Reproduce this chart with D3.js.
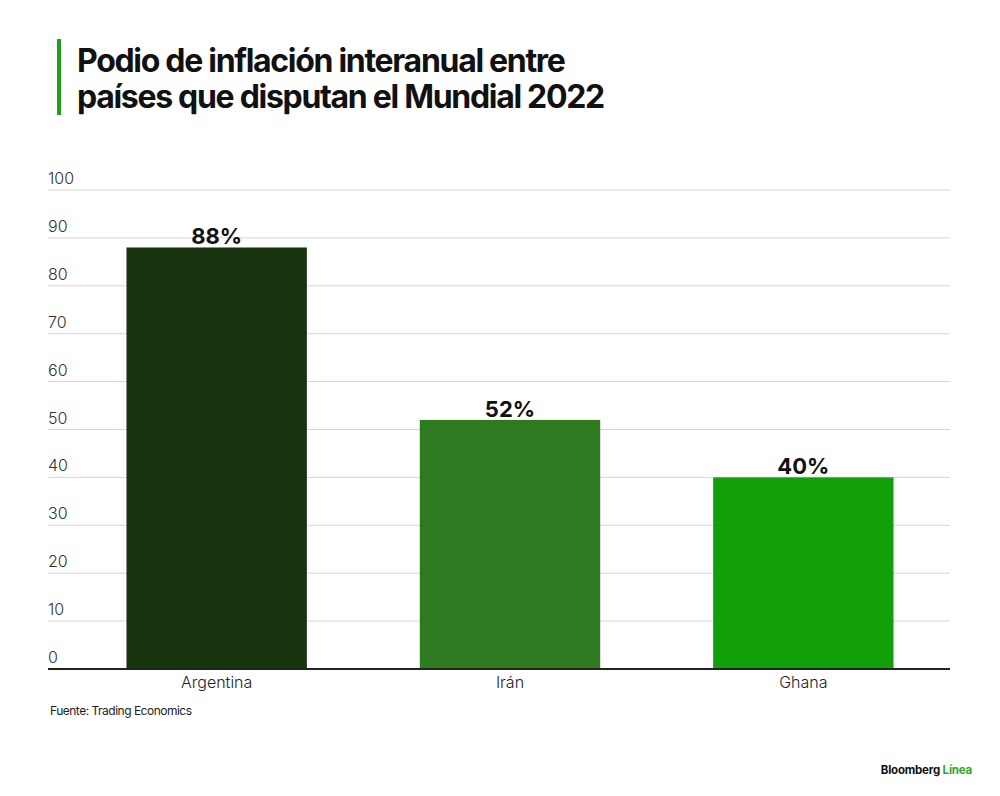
<!DOCTYPE html>
<html>
<head>
<meta charset="utf-8">
<script src="https://cdn.jsdelivr.net/npm/d3@7"></script>
<style>
  body { margin: 0; background: #fff; }
  svg { display: block; }
</style>
</head>
<body>
<div id="chart"></div>
<script>
  const countries = ["Argentina", "Irán", "Ghana"];
  const inflation = [88, 52, 40];
  const barColors = ["#18340f", "#2e7a20", "#12a00a"];
  const yTicks = [0, 10, 20, 30, 40, 50, 60, 70, 80, 90, 100];
  const titleLines = ["Podio de inflación interanual entre", "países que disputan el Mundial 2022"];

  const data = countries.map((c, i) => ({ country: c, value: inflation[i], color: barColors[i] }));

  const width = 1000;
  const height = 796;
  const margin = { top: 190, right: 50, bottom: 127, left: 48 };

  const svg = d3.select("#chart")
    .append("svg")
    .attr("width", width)
    .attr("height", height)
    .style("font-family", "Inter, 'Liberation Sans', sans-serif");

  // title with green accent
  svg.append("rect")
    .attr("x", 57).attr("y", 39)
    .attr("width", 4).attr("height", 76)
    .attr("fill", "#1fa01a");

  svg.append("g")
    .selectAll("text")
    .data(titleLines)
    .join("text")
    .attr("x", 77)
    .attr("y", (d, i) => 72 + i * 36)
    .style("font-size", "32px")
    .style("font-weight", "700")
    .style("letter-spacing", "-1.3px")
    .attr("fill", "#111")
    .text(d => d);

  const x = d3.scaleBand()
    .domain(countries)
    .range([70, width - margin.right])
    .paddingInner(0.385)
    .paddingOuter(0.1925);

  const y = d3.scaleLinear()
    .domain([0, 100])
    .range([height - margin.bottom, margin.top]);

  // gridlines
  svg.append("g")
    .selectAll("line")
    .data(yTicks.filter(d => d > 0))
    .join("line")
    .attr("x1", margin.left)
    .attr("x2", width - margin.right)
    .attr("y1", d => y(d))
    .attr("y2", d => y(d))
    .attr("stroke", "#d6d6d6")
    .attr("stroke-width", 1);

  // y tick labels sit above the gridlines
  svg.append("g")
    .selectAll("text")
    .data(yTicks)
    .join("text")
    .attr("x", margin.left)
    .attr("y", d => y(d) - 6)
    .style("font-size", "16px")
    .style("font-weight", "300")
    .attr("fill", "#333")
    .text(d => d);

  // bars
  svg.append("g")
    .selectAll("rect")
    .data(data)
    .join("rect")
    .attr("x", d => x(d.country))
    .attr("y", d => y(d.value))
    .attr("width", x.bandwidth())
    .attr("height", d => y(0) - y(d.value))
    .attr("fill", d => d.color);

  // value labels
  svg.append("g")
    .selectAll("text")
    .data(data)
    .join("text")
    .attr("x", d => x(d.country) + x.bandwidth() / 2)
    .attr("y", d => y(d.value) - 3)
    .attr("text-anchor", "middle")
    .style("font-size", "22px")
    .style("font-weight", "700")
    .attr("fill", "#111")
    .text(d => d.value + "%");

  // baseline + category axis
  const xAxis = svg.append("g")
    .attr("transform", `translate(0,${y(0)})`)
    .call(d3.axisBottom(x).tickSize(0).tickPadding(8));
  xAxis.select(".domain").remove();
  xAxis.selectAll("text")
    .style("font-size", "16px")
    .style("font-weight", "300")
    .style("font-family", "Inter, 'Liberation Sans', sans-serif")
    .attr("fill", "#222");

  svg.append("line")
    .attr("x1", margin.left)
    .attr("x2", width - margin.right)
    .attr("y1", y(0))
    .attr("y2", y(0))
    .attr("stroke", "#222")
    .attr("stroke-width", 2);

  // source
  svg.append("text")
    .attr("x", 50)
    .attr("y", 715)
    .style("font-size", "12px")
    .style("letter-spacing", "-0.5px")
    .attr("fill", "#222")
    .text("Fuente: Trading Economics");

  // logo
  const logo = svg.append("text")
    .attr("x", 972)
    .attr("y", 774)
    .attr("text-anchor", "end")
    .style("font-size", "11.5px")
    .style("font-weight", "700")
    .style("letter-spacing", "-0.2px");
  logo.append("tspan").attr("fill", "#111").text("Bloomberg ");
  logo.append("tspan").attr("fill", "#2fa82a").text("Línea");
</script>
</body>
</html>
